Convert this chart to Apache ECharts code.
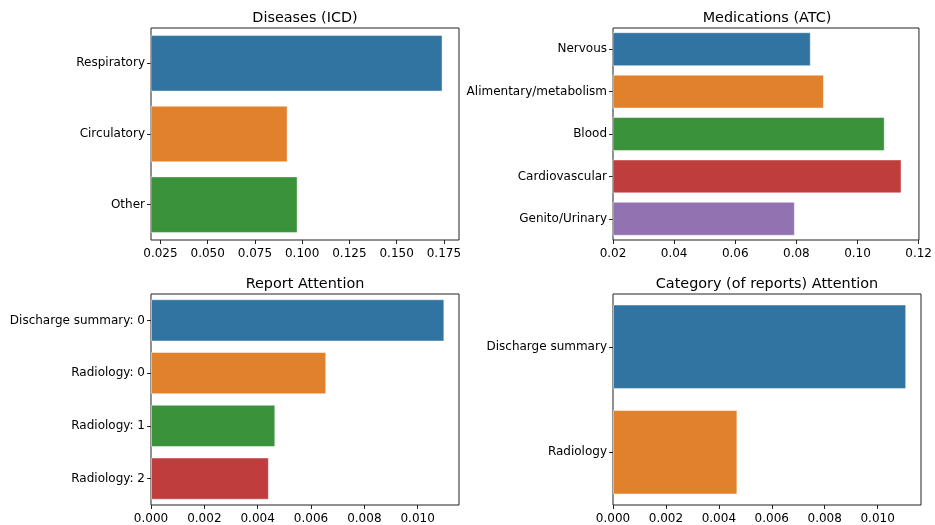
<!DOCTYPE html>
<html>
<head>
<meta charset="utf-8">
<title>Attention by category</title>
<script src="https://cdn.jsdelivr.net/npm/echarts@6/dist/echarts.min.js"></script>
<style>
  html, body { margin: 0; padding: 0; background: #fff; }
  #chart { width: 935px; height: 525px; }
</style>
</head>
<body>
<div id="chart"></div>
<script>
// Diseases (ICD)
const diseaseCats = ['Respiratory', 'Circulatory', 'Other'];
const diseaseVals = [0.1743, 0.0923, 0.0976];
const diseaseTicks = [0.025, 0.05, 0.075, 0.1, 0.125, 0.15, 0.175];

// Medications (ATC)
const medCats = ['Nervous', 'Alimentary/metabolism', 'Blood', 'Cardiovascular', 'Genito/Urinary'];
const medVals = [0.0847, 0.0890, 0.1089, 0.1144, 0.0795];
const medTicks = [0.02, 0.04, 0.06, 0.08, 0.10, 0.12];

// Report Attention
const reportCats = ['Discharge summary: 0', 'Radiology: 0', 'Radiology: 1', 'Radiology: 2'];
const reportVals = [0.0110, 0.00657, 0.00466, 0.00442];
const reportTicks = [0, 0.002, 0.004, 0.006, 0.008, 0.010];

// Category (of reports) Attention
const categoryCats = ['Discharge summary', 'Radiology'];
const categoryVals = [0.01108, 0.00470];
const categoryTicks = [0, 0.002, 0.004, 0.006, 0.008, 0.010];

const palette = ['#3274a1', '#e1812c', '#3a923a', '#c03d3e', '#9372b2'];
const FONT = '"DejaVu Sans", sans-serif';
const TEXT = '#000';
const LINE = '#222';

const panels = [
  { title: 'Diseases (ICD)', cats: diseaseCats, vals: diseaseVals, ticks: diseaseTicks,
    min: 0.02, max: 0.183, digits: 3, left: 151, top: 28 },
  { title: 'Medications (ATC)', cats: medCats, vals: medVals, ticks: medTicks,
    min: 0.02, max: 0.1201, digits: 2, left: 613, top: 28 },
  { title: 'Report Attention', cats: reportCats, vals: reportVals, ticks: reportTicks,
    min: 0, max: 0.01155, digits: 3, left: 151, top: 294 },
  { title: 'Category (of reports) Attention', cats: categoryCats, vals: categoryVals, ticks: categoryTicks,
    min: 0, max: 0.01164, digits: 3, left: 613, top: 294 }
];

const W = 308, H = 212;

const option = {
  animation: false,
  backgroundColor: '#fff',
  title: panels.map(p => ({
    text: p.title,
    left: p.left + W / 2,
    top: p.top - 17,
    textAlign: 'center',
    padding: 0,
    textStyle: { fontFamily: FONT, fontSize: 14.4, fontWeight: 'normal', color: TEXT }
  })),
  grid: panels.map(p => ({
    left: p.left, top: p.top, width: W, height: H,
    show: true, borderColor: LINE, borderWidth: 1, backgroundColor: 'transparent',
    containLabel: false
  })),
  xAxis: panels.map((p, i) => ({
    type: 'value',
    gridIndex: i,
    min: p.min,
    max: p.max,
    splitLine: { show: false },
    axisLine: { show: false },
    axisTick: { show: true, length: 4, lineStyle: { color: LINE, width: 1 }, customValues: p.ticks },
    axisLabel: {
      show: true, margin: 8, customValues: p.ticks,
      fontFamily: FONT, fontSize: 12, color: TEXT,
      formatter: v => Number(v).toFixed(p.digits),
      hideOverlap: false, showMinLabel: true, showMaxLabel: true
    }
  })),
  yAxis: panels.map((p, i) => ({
    type: 'category',
    gridIndex: i,
    data: p.cats,
    inverse: true,
    boundaryGap: true,
    splitLine: { show: false },
    axisLine: { show: false },
    axisTick: { show: true, length: 4, alignWithLabel: true, lineStyle: { color: LINE, width: 1 } },
    axisLabel: { margin: 6, fontFamily: FONT, fontSize: 12, color: TEXT, interval: 0, padding: [5, 0, 0, 0] }
  })),
  series: panels.map((p, i) => ({
    type: 'bar',
    xAxisIndex: i,
    yAxisIndex: i,
    barCategoryGap: '20%',
    clip: true,
    data: p.vals.map((v, j) => ({
      value: v,
      itemStyle: {
        color: palette[j % palette.length],
        borderColor: 'rgba(255,255,255,0.45)',
        borderWidth: 1
      }
    }))
  }))
};

const chart = echarts.init(document.getElementById('chart'), null, { renderer: 'canvas' });
chart.setOption(option);
</script>
</body>
</html>
